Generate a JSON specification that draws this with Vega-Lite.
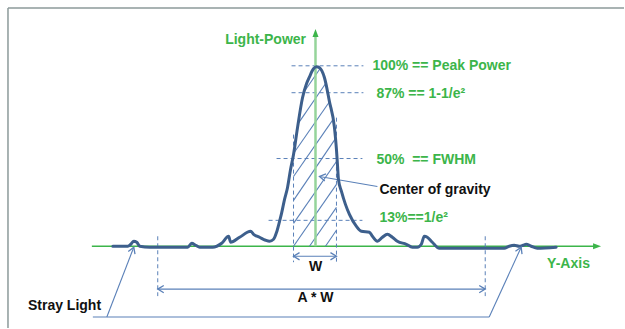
{
  "$schema": "https://vega.github.io/schema/vega-lite/v6.json",
  "width": 625,
  "height": 329,
  "autosize": {"type": "fit", "contains": "padding"},
  "padding": 0,
  "background": "white",
  "config": {"view": {"stroke": null}, "axis": {"disable": true}},
  "datasets": {
    "curve": [
      {"x":113,"y":247},{"x":128,"y":247},{"x":131,"y":245},{"x":134,"y":242},{"x":137,"y":243},{"x":140,"y":247},{"x":150,"y":248},{"x":188,"y":248},{"x":192,"y":244},{"x":196,"y":246},{"x":200,"y":248},{"x":213,"y":248},{"x":222,"y":244},{"x":229,"y":237},{"x":231,"y":243},{"x":240,"y":238},{"x":251,"y":232},{"x":254,"y":235},{"x":260,"y":238},{"x":266,"y":241},{"x":270,"y":242},{"x":274,"y":240},{"x":277,"y":233},{"x":280,"y":222},{"x":282,"y":214},{"x":285,"y":200},{"x":288,"y":188},{"x":291,"y":170},{"x":294,"y":155},{"x":298,"y":128},{"x":303,"y":98},{"x":307,"y":84},{"x":310,"y":77},{"x":314,"y":69},{"x":317,"y":67},{"x":320,"y":68},{"x":325,"y":78},{"x":330,"y":102},{"x":335,"y":128},{"x":337,"y":150},{"x":338,"y":165},{"x":339,"y":180},{"x":342,"y":192},{"x":346,"y":205},{"x":350,"y":215},{"x":357,"y":227},{"x":362,"y":232},{"x":370,"y":233},{"x":373,"y":237},{"x":378,"y":242},{"x":383,"y":238},{"x":388,"y":235},{"x":393,"y":238},{"x":398,"y":242},{"x":407,"y":245},{"x":413,"y":248},{"x":418,"y":248},{"x":422,"y":245},{"x":425,"y":237},{"x":428,"y":238},{"x":433,"y":243},{"x":440,"y":249},{"x":505,"y":249},{"x":510,"y":247},{"x":515,"y":246},{"x":520,"y":247},{"x":524,"y":246},{"x":527,"y":245},{"x":532,"y":247},{"x":538,"y":249},{"x":557,"y":248}
    ],
    "segs": [
      {"kind":"frame","x":8,"y":8,"x2":625,"y2":8},
      {"kind":"frame","x":8,"y":8,"x2":8,"y2":329},
      {"kind":"dash","x":292,"y":66,"x2":364,"y2":66},
      {"kind":"dash","x":292,"y":93,"x2":364,"y2":93},
      {"kind":"dash","x":277,"y":159,"x2":363,"y2":159},
      {"kind":"dash","x":269,"y":221,"x2":363,"y2":221},
      {"kind":"dash","x":294,"y":135,"x2":294,"y2":263},
      {"kind":"dash","x":337,"y":118,"x2":337,"y2":263},
      {"kind":"dash","x":158,"y":237,"x2":158,"y2":297},
      {"kind":"dash","x":486,"y":237,"x2":486,"y2":297},
      {"kind":"thin","x":294,"y":257,"x2":337,"y2":257},
      {"kind":"thin","x":158,"y":290,"x2":486,"y2":290},
      {"kind":"thin","x":378,"y":187,"x2":320,"y2":177},
      {"kind":"thin","x":134,"y":248,"x2":107,"y2":318},
      {"kind":"thin","x":93,"y":318,"x2":490,"y2":318},
      {"kind":"thin","x":490,"y":318,"x2":522,"y2":248},
      {"kind":"hatch","x":326,"y":247,"x2":337,"y2":231},
      {"kind":"hatch","x":310,"y":247,"x2":337,"y2":208},
      {"kind":"hatch","x":294,"y":247,"x2":337,"y2":185},
      {"kind":"hatch","x":294,"y":224,"x2":337,"y2":162},
      {"kind":"hatch","x":294,"y":201,"x2":336,"y2":139},
      {"kind":"hatch","x":294,"y":177,"x2":333.5,"y2":120},
      {"kind":"hatch","x":294,"y":154,"x2":330,"y2":102},
      {"kind":"hatch","x":298.6,"y":124,"x2":326,"y2":84},
      {"kind":"hatch","x":304.7,"y":92,"x2":320.5,"y2":69},
      {"kind":"yaxis","x":316,"y":247,"x2":316,"y2":34},
      {"kind":"xaxis","x":92,"y":247,"x2":596,"y2":247}
    ],
    "heads": [
      {"dir":"left","x":294,"y":257},
      {"dir":"right","x":337,"y":257},
      {"dir":"left","x":158,"y":290},
      {"dir":"right","x":486,"y":290},
      {"dir":"cog","x":320,"y":177},
      {"dir":"strayL","x":134,"y":248},
      {"dir":"strayR","x":522,"y":248},
      {"dir":"axisUp","x":316,"y":29},
      {"dir":"axisRight","x":602,"y":247}
    ],
    "labels": [
      {"t":"Light-Power","g":"green","a":"center","x":266,"y":40},
      {"t":"100% == Peak Power","g":"green","a":"left","x":373,"y":66},
      {"t":"87% == 1-1/e²","g":"green","a":"left","x":377,"y":94},
      {"t":"50%\u00a0\u00a0== FWHM","g":"green","a":"left","x":377,"y":160},
      {"t":"13%==1/e²","g":"green","a":"left","x":380,"y":219},
      {"t":"Y-Axis","g":"green","a":"left","x":548,"y":265},
      {"t":"Center of gravity","g":"black","a":"left","x":380,"y":191},
      {"t":"W","g":"black","a":"center","x":316,"y":268},
      {"t":"A * W","g":"black","a":"center","x":316,"y":299},
      {"t":"Stray Light","g":"black","a":"left","x":28,"y":307}
    ]
  },
  "layer": [
    {
      "data": {"name": "segs"},
      "transform": [{"filter": "datum.kind === 'frame'"}],
      "mark": {"type": "rule", "color": "#8c9a9a", "strokeWidth": 1.5},
      "encoding": {
        "x": {"field": "x", "type": "quantitative", "scale": {"domain": [0, 625], "nice": false, "zero": false}},
        "y": {"field": "y", "type": "quantitative", "scale": {"domain": [0, 329], "nice": false, "zero": false, "reverse": true}},
        "x2": {"field": "x2"},
        "y2": {"field": "y2"}
      }
    },
    {
      "data": {"name": "segs"},
      "transform": [{"filter": "datum.kind === 'xaxis'"}],
      "mark": {"type": "rule", "color": "#3cb54a", "strokeWidth": 1.5},
      "encoding": {
        "x": {"field": "x", "type": "quantitative"},
        "y": {"field": "y", "type": "quantitative"},
        "x2": {"field": "x2"},
        "y2": {"field": "y2"}
      }
    },
    {
      "data": {"name": "segs"},
      "transform": [{"filter": "datum.kind === 'dash'"}],
      "mark": {"type": "rule", "color": "#5a80b8", "strokeWidth": 1, "strokeDash": [4, 3]},
      "encoding": {
        "x": {"field": "x", "type": "quantitative"},
        "y": {"field": "y", "type": "quantitative"},
        "x2": {"field": "x2"},
        "y2": {"field": "y2"}
      }
    },
    {
      "data": {"name": "segs"},
      "transform": [{"filter": "datum.kind === 'thin' || datum.kind === 'hatch'"}],
      "mark": {"type": "rule", "color": "#5a80b8", "strokeWidth": 1.1},
      "encoding": {
        "x": {"field": "x", "type": "quantitative"},
        "y": {"field": "y", "type": "quantitative"},
        "x2": {"field": "x2"},
        "y2": {"field": "y2"}
      }
    },
    {
      "data": {"name": "segs"},
      "transform": [{"filter": "datum.kind === 'yaxis'"}],
      "mark": {"type": "rule", "color": "#95d49a", "strokeWidth": 2.5},
      "encoding": {
        "x": {"field": "x", "type": "quantitative"},
        "y": {"field": "y", "type": "quantitative"},
        "x2": {"field": "x2"},
        "y2": {"field": "y2"}
      }
    },
    {
      "data": {"name": "curve"},
      "mark": {"type": "line", "color": "#3d5f8c", "strokeWidth": 3, "interpolate": "monotone", "strokeJoin": "round", "strokeCap": "round"},
      "encoding": {
        "x": {"field": "x", "type": "quantitative"},
        "y": {"field": "y", "type": "quantitative"}
      }
    },
    {
      "data": {"name": "heads"},
      "transform": [{"filter": "datum.dir === 'left'"}],
      "mark": {"type": "point", "shape": "M-0.6,1L0,0L0.6,1", "filled": false, "size": 144, "stroke": "#5a80b8", "strokeWidth": 1.3, "opacity": 1, "angle": 270},
      "encoding": {"x": {"field": "x", "type": "quantitative"}, "y": {"field": "y", "type": "quantitative"}}
    },
    {
      "data": {"name": "heads"},
      "transform": [{"filter": "datum.dir === 'right'"}],
      "mark": {"type": "point", "shape": "M-0.6,1L0,0L0.6,1", "filled": false, "size": 144, "stroke": "#5a80b8", "strokeWidth": 1.3, "opacity": 1, "angle": 90},
      "encoding": {"x": {"field": "x", "type": "quantitative"}, "y": {"field": "y", "type": "quantitative"}}
    },
    {
      "data": {"name": "heads"},
      "transform": [{"filter": "datum.dir === 'cog'"}],
      "mark": {"type": "point", "shape": "M-0.6,1L0,0L0.6,1", "filled": false, "size": 144, "stroke": "#5a80b8", "strokeWidth": 1.3, "opacity": 1, "angle": 280},
      "encoding": {"x": {"field": "x", "type": "quantitative"}, "y": {"field": "y", "type": "quantitative"}}
    },
    {
      "data": {"name": "heads"},
      "transform": [{"filter": "datum.dir === 'strayL'"}],
      "mark": {"type": "point", "shape": "M-0.6,1L0,0L0.6,1", "filled": false, "size": 144, "stroke": "#5a80b8", "strokeWidth": 1.3, "opacity": 1, "angle": 21},
      "encoding": {"x": {"field": "x", "type": "quantitative"}, "y": {"field": "y", "type": "quantitative"}}
    },
    {
      "data": {"name": "heads"},
      "transform": [{"filter": "datum.dir === 'strayR'"}],
      "mark": {"type": "point", "shape": "M-0.6,1L0,0L0.6,1", "filled": false, "size": 144, "stroke": "#5a80b8", "strokeWidth": 1.3, "opacity": 1, "angle": 24},
      "encoding": {"x": {"field": "x", "type": "quantitative"}, "y": {"field": "y", "type": "quantitative"}}
    },
    {
      "data": {"name": "heads"},
      "transform": [{"filter": "datum.dir === 'axisUp'"}],
      "mark": {"type": "point", "shape": "M0,0L-0.6,1.6L0.6,1.6Z", "filled": true, "size": 100, "color": "#3cb54a", "opacity": 1, "angle": 0},
      "encoding": {"x": {"field": "x", "type": "quantitative"}, "y": {"field": "y", "type": "quantitative"}}
    },
    {
      "data": {"name": "heads"},
      "transform": [{"filter": "datum.dir === 'axisRight'"}],
      "mark": {"type": "point", "shape": "M0,0L-0.6,1.6L0.6,1.6Z", "filled": true, "size": 100, "color": "#3cb54a", "opacity": 1, "angle": 90},
      "encoding": {"x": {"field": "x", "type": "quantitative"}, "y": {"field": "y", "type": "quantitative"}}
    },
    {
      "data": {"name": "labels"},
      "transform": [{"filter": "datum.a === 'left'"}],
      "mark": {"type": "text", "align": "left", "baseline": "middle", "font": "Liberation Sans", "fontWeight": "bold", "fontSize": 14},
      "encoding": {
        "x": {"field": "x", "type": "quantitative"},
        "y": {"field": "y", "type": "quantitative"},
        "text": {"field": "t"},
        "color": {"field": "g", "type": "nominal", "scale": {"domain": ["green", "black"], "range": ["#3cb54a", "#111111"]}, "legend": null}
      }
    },
    {
      "data": {"name": "labels"},
      "transform": [{"filter": "datum.a === 'center'"}],
      "mark": {"type": "text", "align": "center", "baseline": "middle", "font": "Liberation Sans", "fontWeight": "bold", "fontSize": 14},
      "encoding": {
        "x": {"field": "x", "type": "quantitative"},
        "y": {"field": "y", "type": "quantitative"},
        "text": {"field": "t"},
        "color": {"field": "g", "type": "nominal", "scale": {"domain": ["green", "black"], "range": ["#3cb54a", "#111111"]}, "legend": null}
      }
    }
  ]
}
